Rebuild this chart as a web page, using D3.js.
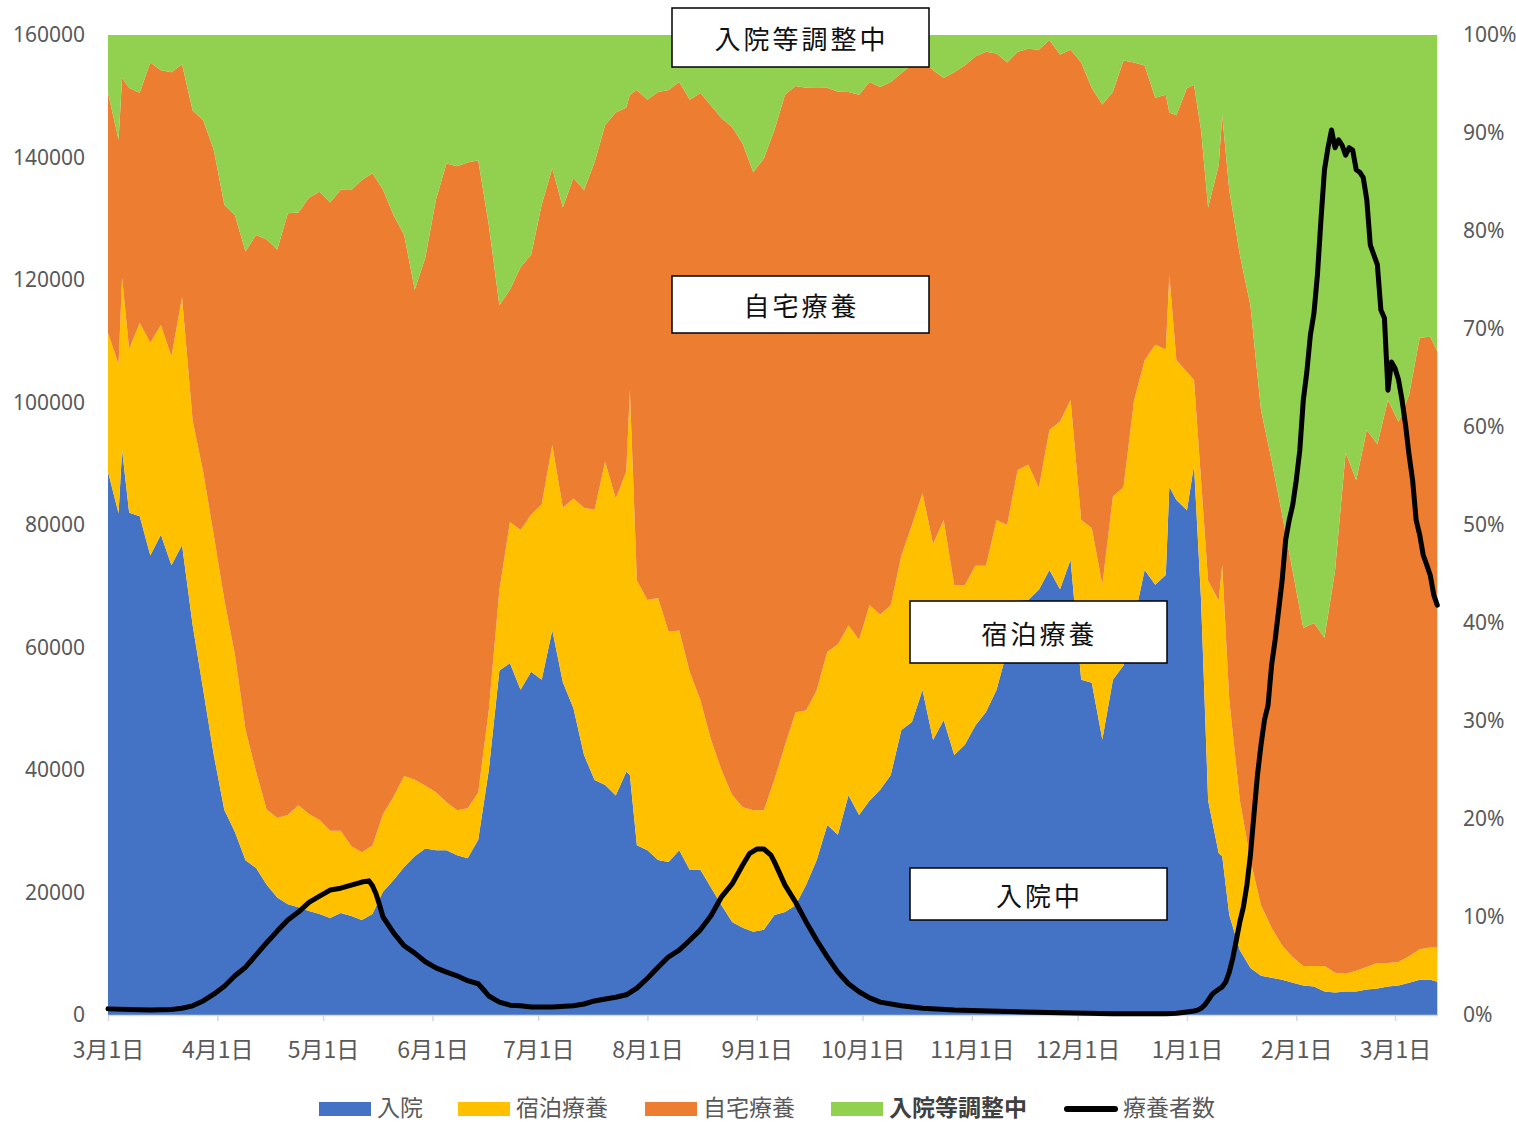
<!DOCTYPE html>
<html><head><meta charset="utf-8">
<script src="https://cdn.jsdelivr.net/npm/d3@7"></script>
<style>
body{margin:0;background:#fff;}
text{font-family:"Noto Sans CJK JP","Noto Sans",sans-serif;}
</style>
</head><body>
<svg id="chart" width="1516" height="1122"></svg>
<script>
// ---------------- DATA ----------------
const startDate = "2021-03-01";
const categories = ["入院", "宿泊療養", "自宅療養", "入院等調整中"];
const lineName = "療養者数";
const annotationLabels = ["入院等調整中", "自宅療養", "宿泊療養", "入院中"];

// days since 2021-03-01 for the stacked (100%) areas
const areaDay = [
  0,3,4,6,9,12,15,18,21,24,
  27,30,33,36,39,42,45,48,51,54,
  57,60,63,66,69,72,75,78,81,84,
  87,90,93,96,99,102,105,108,111,114,
  117,120,123,126,129,132,135,138,141,144,
  147,148,150,153,156,159,162,165,168,171,
  174,177,180,183,186,189,192,195,198,201,
  204,207,210,213,216,219,222,225,228,231,
  234,237,240,243,246,249,252,255,258,261,
  264,267,270,273,276,279,282,285,288,291,
  294,297,300,301,303,306,308,310,312,315,
  316,318,321,324,327,330,333,336,339,342,
  345,348,351,354,357,360,363,366,369,372,
  375,377];
// share (%) of each category
const hospital = [
  55.4,51.2,57.7,51.2,50.9,46.9,49.0,45.9,48.0,39.8,
  33.2,26.5,20.9,18.7,15.8,15.0,13.3,12.0,11.3,11.0,
  10.6,10.3,9.9,10.4,10.1,9.7,10.3,12.6,13.8,15.1,
  16.2,17.0,16.8,16.8,16.3,16.0,17.9,25.0,35.2,35.9,
  33.2,35.0,34.2,39.3,34.0,31.3,26.5,24.0,23.5,22.4,
  24.8,24.5,17.3,16.8,15.8,15.6,16.8,14.8,14.8,13.0,
  11.2,9.5,8.9,8.5,8.7,10.2,10.5,11.2,13.3,15.8,
  19.4,18.4,22.4,20.4,21.9,23.0,24.5,29.1,29.9,33.2,
  28.1,30.1,26.5,27.6,29.5,30.9,33.2,37.2,42.3,42.3,
  43.4,45.4,43.4,46.4,34.2,33.9,28.1,34.2,35.7,40.3,
  45.4,43.9,44.9,53.9,52.6,51.5,56.1,42.3,21.9,16.5,
  16.2,10.2,6.6,4.8,4.0,3.8,3.6,3.3,3.0,2.9,
  2.4,2.3,2.4,2.4,2.6,2.7,2.9,3.0,3.3,3.6,
  3.6,3.4];
const hotel = [
  14.2,15.2,17.6,16.7,19.7,21.7,21.4,21.3,25.3,20.9,
  22.2,22.4,21.4,18.1,13.3,9.8,7.7,8.1,9.1,10.4,
  9.9,9.6,8.9,8.4,7.1,6.9,7.0,7.9,8.5,9.3,
  7.8,6.4,5.9,4.9,4.6,5.1,4.8,6.1,8.2,14.4,
  16.3,16.0,17.9,18.9,17.8,21.4,25.2,27.6,33.0,30.3,
  30.6,39.3,27.0,25.5,26.7,23.5,22.4,20.2,17.3,15.1,
  13.8,13.0,12.3,12.4,12.2,13.8,17.0,19.7,17.8,17.3,
  17.7,19.4,17.3,17.9,19.9,17.9,17.3,17.8,20.1,20.1,
  20.0,20.4,17.3,16.3,16.3,14.9,17.3,12.8,13.3,13.8,
  10.4,14.3,17.1,16.3,16.3,15.8,15.8,18.7,18.2,22.4,
  21.4,24.5,23.0,21.6,14.3,14.1,8.7,12.2,22.4,25.8,
  29.7,21.9,15.3,11.0,7.2,5.1,3.5,2.6,2.0,2.1,
  2.6,2.0,1.8,2.1,2.3,2.6,2.4,2.4,2.7,3.1,
  3.3,3.5];
const home = [
  24.5,22.9,20.4,26.6,23.5,28.6,26.0,29.0,23.8,31.6,
  35.9,39.3,40.3,44.9,48.8,54.8,58.2,58.0,61.4,60.5,
  62.9,64.1,64.1,65.4,66.9,68.6,68.6,63.8,59.4,55.2,
  50.0,53.9,60.4,65.2,65.7,65.9,64.6,49.5,29.1,23.7,
  26.8,26.5,30.6,28.3,30.7,32.7,32.4,35.5,34.4,39.4,
  37.1,30.1,50.0,51.0,51.6,55.3,55.9,58.4,61.9,64.7,
  66.5,68.2,67.7,65.1,66.5,66.3,66.3,63.9,63.6,61.4,
  57.6,56.4,54.4,55.6,53.4,53.9,53.4,49.3,47.0,44.2,
  48.4,45.1,52.3,53.1,51.9,52.4,47.6,47.2,42.7,42.4,
  44.7,39.8,37.4,35.7,46.7,44.9,49.0,41.3,43.6,34.5,
  30.1,25.2,26.0,16.6,25.0,29.0,30.1,35.7,38.1,44.4,
  45.9,52.0,55.6,56.6,50.5,47.8,44.0,39.4,34.5,35.0,
  33.5,41.0,53.2,50.0,54.8,53.0,57.4,55.1,57.3,62.4,
  62.3,60.8];
const adjusting = [
  5.9,10.7,4.4,5.4,5.9,2.8,3.6,3.8,3.0,7.7,
  8.7,11.7,17.3,18.4,22.1,20.4,20.9,21.9,18.2,18.1,
  16.6,16.0,17.1,15.8,15.8,14.8,14.1,15.8,18.4,20.4,
  26.0,22.7,16.8,13.1,13.4,13.0,12.8,19.4,27.6,26.0,
  23.7,22.4,17.3,13.6,17.6,14.6,15.8,13.0,9.2,7.9,
  7.4,6.1,5.6,6.6,5.8,5.6,4.8,6.6,5.9,7.2,
  8.5,9.4,11.1,14.0,12.6,9.7,6.1,5.2,5.4,5.4,
  5.4,5.8,5.8,6.1,4.8,5.3,4.8,3.9,3.0,2.6,
  3.6,4.4,3.8,3.1,2.2,1.7,1.9,2.8,1.7,1.4,
  1.5,0.5,2.0,1.5,2.8,5.4,7.1,5.8,2.6,2.8,
  3.1,6.4,6.1,7.9,8.2,5.4,5.1,9.7,17.6,13.3,
  8.2,15.8,22.4,27.6,38.3,43.4,49.0,54.8,60.5,60.0,
  61.5,54.6,42.6,45.4,40.3,41.8,37.2,39.5,36.7,30.9,
  30.8,32.3];

// total number of patients under care (left axis)
const lineDay = [
  0,6,12,18,21,24,27,30,33,36,39,42,45,48,51,54,57,60,63,66,69,72,
  74,75,76,77,78,81,84,87,90,93,96,99,102,105,107,108,111,114,117,120,126,132,135,138,141,144,147,
  150,153,156,159,162,165,168,171,174,177,180,182,184,186,188,189,192,195,198,201,204,207,210,213,216,219,225,231,240,250,260,270,285,300,
  303,306,308,309,310,311,312,313,314,315,316,317,318,319,320,321,322,323,324,325,326,327,328,
  329,330,331,332,333,334,335,336,337,338,339,340,341,342,343,344,345,346,347,348,
  349,350,351,352,353,354,355,356,357,358,359,360,361,362,363,364,365,366,367,368,
  369,370,371,372,373,374,375,376,377];
const lineValue = [
  1000,900,800,900,1100,1500,2300,3400,4700,6400,7800,9800,11800,13700,15500,16800,18400,19400,20400,20700,21200,21700,
  21900,21100,19800,18000,16000,13400,11300,10100,8700,7700,7000,6400,5600,5100,3800,3100,2100,1600,1500,1300,1300,1500,1800,2300,2600,2900,3300,
  4400,6000,7800,9500,10600,12200,13900,16200,19300,21400,24500,26400,27100,27100,26100,25000,21200,18400,15200,12200,9500,7000,5100,3800,2800,2100,1500,1100,800,650,500,350,200,200,
  300,500,650,800,1100,1600,2400,3300,3800,4200,4600,5400,7000,9300,12200,15200,17600,21200,26100,32700,39200,44100,48200,
  50600,57100,61200,66100,71000,77600,80800,83300,87300,92200,100400,105000,111000,114500,120800,129800,138000,141600,144500,141600,
  142900,142000,140400,141600,141200,138000,137600,136700,133100,125700,124100,122500,115100,113800,102000,106600,105600,103700,100400,96300,
  91400,87300,80800,78400,75100,73500,71800,68600,66900];

const leftTicks = [0,20000,40000,60000,80000,100000,120000,140000,160000];
const rightTicks = [0,0.1,0.2,0.3,0.4,0.5,0.6,0.7,0.8,0.9,1.0];

// ---------------- CHART ----------------
const colors = ["#4472C4", "#FFC000", "#ED7D31", "#92D050"];
const svg = d3.select("#chart");
const plot = {left:108, right:1438, top:35, bottom:1015};
const t0 = d3.timeParse("%Y-%m-%d")(startDate);
const dateOf = d => d3.timeDay.offset(t0, d);
const t1 = d3.timeYear.offset(t0, 1);

const x = d3.scaleTime().domain([t0, t1]).range([plot.left, 1395]);
const yLeft = d3.scaleLinear().domain([0,160000]).range([plot.bottom, plot.top]);
const yRight = d3.scaleLinear().domain([0,1]).range([plot.bottom, plot.top]);

const series = [hospital, hotel, home, adjusting];
const rows = areaDay.map((d,i) => {
  const r = {date: dateOf(d)};
  categories.forEach((c,k) => r[c] = series[k][i]);
  return r;
});
const stacked = d3.stack().keys(categories).offset(d3.stackOffsetExpand)(rows);
const area = d3.area().x(d => x(d.data.date)).y0(d => yRight(d[0])).y1(d => yRight(d[1]));

svg.append("g").selectAll("path").data(stacked).join("path")
  .attr("d", area).attr("fill", (d,i) => colors[i]);

// x axis
const monthTicks = d3.timeMonth.range(t0, d3.timeDay.offset(t1, 1));
const xAxis = d3.axisBottom(x).tickValues(monthTicks).tickSize(6).tickPadding(21)
  .tickFormat(d => `${d.getMonth()+1}月${d.getDate()}日`);
const gx = svg.append("g").attr("transform", `translate(0,${plot.bottom})`).call(xAxis);
gx.select(".domain").attr("d", `M${plot.left},0.5H${plot.right}`).attr("stroke", "#D9D9D9").attr("stroke-width", 1.5);
gx.selectAll(".tick line").attr("stroke", "#D9D9D9").attr("stroke-width", 1.5);
gx.selectAll("text").attr("fill", "#595959").style("font-size", "23px")
  .style("font-family", '"Noto Sans CJK JP", sans-serif');

// left axis
const gl = svg.append("g").attr("transform", `translate(${plot.left},0)`)
  .call(d3.axisLeft(yLeft).tickValues(leftTicks).tickSize(0).tickPadding(23).tickFormat(d3.format("d")));
gl.select(".domain").remove();
gl.selectAll("text").attr("fill", "#595959").style("font-size", "21px").style("font-family", '"Noto Sans", sans-serif');

// right axis
const gr = svg.append("g").attr("transform", `translate(${plot.right},0)`)
  .call(d3.axisRight(yRight).tickValues(rightTicks).tickSize(0).tickPadding(25).tickFormat(d3.format(".0%")));
gr.select(".domain").remove();
gr.selectAll("text").attr("fill", "#595959").style("font-size", "21px").style("font-family", '"Noto Sans", sans-serif');

// line
const lineData = lineDay.map((d,i) => ({date: dateOf(d), v: lineValue[i]}));
svg.append("path").datum(lineData)
  .attr("fill", "none").attr("stroke", "#000").attr("stroke-width", 5)
  .attr("stroke-linejoin", "round").attr("stroke-linecap", "round")
  .attr("d", d3.line().x(d => x(d.date)).y(d => yLeft(d.v)));

// annotation boxes
const boxes = [
  {x:672, y:8, w:257, h:59},
  {x:672, y:276, w:257, h:57},
  {x:910, y:601, w:257, h:62},
  {x:910, y:868, w:257, h:52}
];
const ann = svg.append("g");
boxes.forEach((b,i) => {
  ann.append("rect").attr("x", b.x).attr("y", b.y).attr("width", b.w).attr("height", b.h)
    .attr("fill", "#fff").attr("stroke", "#000").attr("stroke-width", 1.5);
  ann.append("text").attr("x", b.x + b.w/2 + 1).attr("y", b.y + b.h/2)
    .attr("text-anchor", "middle").attr("dominant-baseline", "central")
    .style("font-size", "26px").style("letter-spacing", "3px").attr("fill", "#111")
    .text(annotationLabels[i]);
});

// legend
const legendItems = [
  {x:319, tx:377, type:"rect"},
  {x:458, tx:516, type:"rect"},
  {x:645, tx:703, type:"rect"},
  {x:831, tx:889, type:"rect"},
  {x:1064, tx:1123, type:"line"}
];
const lg = svg.append("g");
legendItems.forEach((it,i) => {
  const name = i < 4 ? categories[i] : lineName;
  if (it.type === "rect") {
    lg.append("rect").attr("x", it.x).attr("y", 1102).attr("width", 52).attr("height", 14).attr("fill", colors[i]);
  } else {
    lg.append("line").attr("x1", it.x + 3).attr("x2", it.x + 51).attr("y1", 1109).attr("y2", 1109)
      .attr("stroke", "#000").attr("stroke-width", 6).attr("stroke-linecap", "round");
  }
  lg.append("text").attr("x", it.tx).attr("y", 1116)
    .style("font-size", "23px")
    .style("font-weight", i === 3 ? "bold" : "normal")
    .attr("fill", i === 3 ? "#404040" : "#595959")
    .text(name);
});
</script>
</body></html>
